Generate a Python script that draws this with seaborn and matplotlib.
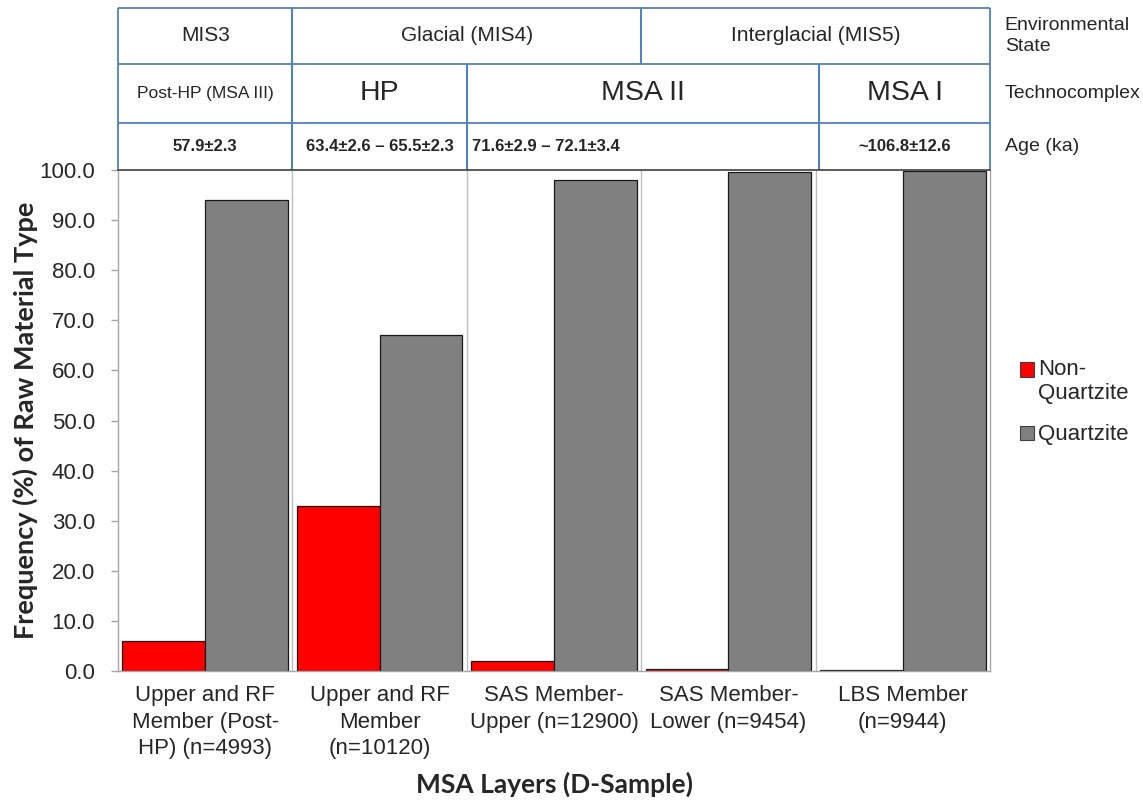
import matplotlib
matplotlib.use("Agg")
import matplotlib.pyplot as plt
import seaborn as sns
import pandas as pd

# ---------------- data ----------------
layers = ["Upper and RF\nMember (Post-\nHP) (n=4993)",
          "Upper and RF\nMember\n(n=10120)",
          "SAS Member-\nUpper (n=12900)",
          "SAS Member-\nLower (n=9454)",
          "LBS Member\n(n=9944)"]
non_quartzite = [6.0, 32.9, 2.0, 0.4, 0.1]
quartzite = [94.0, 67.1, 98.0, 99.6, 99.9]
series_names = ["Non-\nQuartzite", "Quartzite"]

env_labels = ["MIS3", "Glacial (MIS4)", "Interglacial (MIS5)"]
env_spans = [(-0.5, 0.5), (0.5, 2.5), (2.5, 4.5)]
tech_labels = ["Post-HP (MSA III)", "HP", "MSA II", "MSA I"]
tech_spans = [(-0.5, 0.5), (0.5, 1.5), (1.5, 3.52), (3.52, 4.5)]
age_labels = ["57.9±2.3", "63.4±2.6 – 65.5±2.3", "71.6±2.9 – 72.1±3.4", "~106.8±12.6"]
age_spans = [(-0.5, 0.5), (0.5, 1.5), (1.5, 3.52), (3.52, 4.5)]
row_names = ["Environmental\nState", "Technocomplex", "Age (ka)"]

df = pd.DataFrame({
    "layer": layers * 2,
    "type": [series_names[0]] * len(layers) + [series_names[1]] * len(layers),
    "value": non_quartzite + quartzite,
})

# ---------------- figure ----------------
sns.set_style("white")
plt.rcParams["font.family"] = ["Liberation Sans", "DejaVu Sans"]

W, H = 1143, 801
fig = plt.figure(figsize=(W / 100, H / 100), dpi=100)
ax = fig.add_axes([118 / W, 1 - 671 / H, 872 / W, 501 / H])

sns.barplot(data=df, x="layer", y="value", hue="type", ax=ax,
            palette={series_names[0]: "#FF0000", series_names[1]: "#808080"},
            edgecolor="#1a1a1a", linewidth=0.9, width=0.95, gap=0,
            saturation=1, errorbar=None)

ax.set_xlim(-0.5, len(layers) - 0.5)
ax.set_ylim(0, 100)
ax.set_yticks(range(0, 101, 10))
ax.set_yticklabels([f"{v:.1f}" for v in range(0, 101, 10)], fontsize=16)

# category separators
bounds = [i + 0.5 for i in range(len(layers) - 1)]
for b in bounds:
    ax.axvline(b, color="#BEBEBE", lw=1.0, zorder=0)
ax.set_xticks([i - 0.5 for i in range(len(layers) + 1)], minor=True)
ax.tick_params(axis="x", which="minor", length=10, color="#A6A6A6", width=1)
ax.tick_params(axis="x", which="major", length=0, pad=10, labelsize=16)
ax.tick_params(axis="y", length=5, color="#A6A6A6", width=1, labelsize=16, pad=11.5)
ax.tick_params(axis="y", left=True)
for lab in ax.get_xticklabels():
    lab.set_linespacing(1.36)

for s in ["left", "bottom", "right"]:
    ax.spines[s].set_color("#A6A6A6")
    ax.spines[s].set_linewidth(1.0)
ax.spines["top"].set_color("#404040")
ax.spines["top"].set_linewidth(1.2)

ax.set_xlabel("MSA Layers (D-Sample)", fontsize=19, fontweight="bold",
              family=["Lato", "DejaVu Sans"], labelpad=9)
ax.set_ylabel("Frequency (%) of Raw Material Type", fontsize=19.5, fontweight="bold",
              family=["Lato", "DejaVu Sans"], labelpad=1)

# legend
leg = ax.legend(frameon=False, loc="upper left", bbox_to_anchor=(1.0245, 0.64),
                fontsize=16, handlelength=0.6, handleheight=0.6,
                handletextpad=0.2, labelspacing=0.9, borderaxespad=0)
for i, h in enumerate(leg.legend_handles):
    h.set_edgecolor("#404040")
    h.set_linewidth(0.8)
    if i == 0:
        h.set_y(h.get_y() + 9)

# ---------------- header table ----------------
tr = ax.get_xaxis_transform()
blue = "#4F81BD"
y_top, y_r1, y_r2, y_bot = 1.3234, 1.2116, 1.0938, 1.0


def draw_row(labels, spans, y0, y1, sizes, weights, lefts=None):
    for i, (lab, (a, b)) in enumerate(zip(labels, spans)):
        ym = (y0 + y1) / 2
        if lefts and lefts[i]:
            ax.text(a + 0.03, ym, lab, transform=tr, ha="left", va="center",
                    fontsize=sizes[i], fontweight=weights, clip_on=False)
        else:
            ax.text((a + b) / 2, ym, lab, transform=tr, ha="center", va="center",
                    fontsize=sizes[i], fontweight=weights, clip_on=False)
        for x in (a, b):
            ax.plot([x, x], [y0, y1], transform=tr, color=blue, lw=1.3,
                    clip_on=False, solid_capstyle="butt")


draw_row(env_labels, env_spans, y_r1, y_top, [15, 15, 15], "normal")
draw_row(tech_labels, tech_spans, y_r2, y_r1, [12.5, 20.5, 20.5, 20.5], "normal")
draw_row(age_labels, age_spans, y_bot, y_r2, [12, 12, 12, 12], "bold",
         lefts=[False, False, True, False])
for yy in (y_top, y_r1, y_r2):
    ax.plot([-0.5, 4.5], [yy, yy], transform=tr, color=blue, lw=1.3,
            clip_on=False, solid_capstyle="butt")

for name, (y0, y1) in zip(row_names, [(y_r1, y_top), (y_r2, y_r1), (y_bot, y_r2)]):
    ax.text(1.017, (y0 + y1) / 2, name, transform=ax.transAxes, ha="left",
            va="center", fontsize=14, clip_on=False, linespacing=1.25)

fig.savefig("out.png", dpi=100)
